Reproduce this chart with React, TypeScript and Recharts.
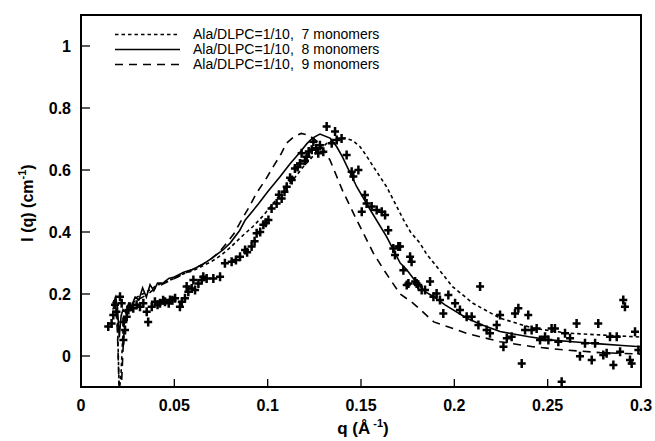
import React from 'react';
import { ComposedChart, Line, Scatter, XAxis, YAxis, ReferenceArea, Legend, Label } from 'recharts';

// ---- data ----
const xTicks = [0, 0.05, 0.1, 0.15, 0.2, 0.25, 0.3];
const xTickLabels = ['0', '0.05', '0.1', '0.15', '0.2', '0.25', '0.3'];
const yTicks = [0, 0.2, 0.4, 0.6, 0.8, 1];
const yTickLabels = ['0', '0.2', '0.4', '0.6', '0.8', '1'];

const seriesNames = [
  'Ala/DLPC=1/10,  7 monomers',
  'Ala/DLPC=1/10,  8 monomers',
  'Ala/DLPC=1/10,  9 monomers',
];

const q7 = [0.017, 0.0185, 0.0195, 0.0205, 0.0215, 0.0225, 0.024, 0.026, 0.028, 0.03, 0.033, 0.036, 0.04, 0.045, 0.05, 0.055, 0.06, 0.065, 0.07, 0.075, 0.08, 0.086, 0.092, 0.098, 0.103, 0.108, 0.1136, 0.119, 0.124, 0.1316, 0.137, 0.1414, 0.1455, 0.1495, 0.153, 0.1566, 0.1637, 0.1685, 0.1727, 0.1765, 0.1816, 0.185, 0.189, 0.199, 0.21, 0.2245, 0.242, 0.26, 0.278, 0.3];
const i7 = [0.17, 0.19, 0.12, -0.12, -0.05, 0.08, 0.13, 0.16, 0.17, 0.19, 0.2, 0.21, 0.225, 0.24, 0.25, 0.265, 0.275, 0.29, 0.305, 0.325, 0.35, 0.385, 0.417, 0.455, 0.493, 0.53, 0.568, 0.61, 0.643, 0.686, 0.7, 0.703, 0.695, 0.675, 0.645, 0.611, 0.546, 0.49, 0.44, 0.4, 0.364, 0.33, 0.3, 0.224, 0.17, 0.122, 0.09, 0.074, 0.068, 0.061];

const q8 = [0.017, 0.0185, 0.0195, 0.0205, 0.0215, 0.0225, 0.024, 0.0255, 0.027, 0.029, 0.031, 0.033, 0.035, 0.037, 0.039, 0.041, 0.044, 0.047, 0.05, 0.055, 0.06, 0.065, 0.07, 0.076, 0.08, 0.085, 0.088, 0.095, 0.1, 0.1066, 0.112, 0.117, 0.121, 0.124, 0.128, 0.1334, 0.137, 0.14, 0.1477, 0.155, 0.1637, 0.171, 0.1743, 0.18, 0.185, 0.189, 0.195, 0.2067, 0.215, 0.2245, 0.24, 0.251, 0.265, 0.278, 0.29, 0.3];
const i8 = [0.16, 0.19, 0.16, 0.06, 0.13, 0.15, 0.14, 0.17, 0.16, 0.19, 0.18, 0.22, 0.19, 0.23, 0.21, 0.235, 0.235, 0.25, 0.255, 0.27, 0.28, 0.295, 0.315, 0.342, 0.365, 0.405, 0.439, 0.49, 0.53, 0.578, 0.62, 0.655, 0.685, 0.703, 0.716, 0.703, 0.675, 0.643, 0.546, 0.471, 0.385, 0.3, 0.28, 0.235, 0.205, 0.191, 0.165, 0.122, 0.1, 0.079, 0.062, 0.052, 0.045, 0.039, 0.034, 0.03];

const q9 = [0.017, 0.0185, 0.0195, 0.0205, 0.0215, 0.0225, 0.0235, 0.025, 0.027, 0.03, 0.033, 0.036, 0.04, 0.045, 0.05, 0.055, 0.06, 0.065, 0.07, 0.074, 0.078, 0.082, 0.085, 0.09, 0.094, 0.099, 0.103, 0.107, 0.11, 0.114, 0.118, 0.122, 0.126, 0.13, 0.1334, 0.14, 0.1477, 0.1566, 0.162, 0.167, 0.171, 0.178, 0.189, 0.2067, 0.2245, 0.242, 0.26, 0.278, 0.3];
const i9 = [0.15, 0.17, 0.08, -0.12, -0.12, 0.02, 0.12, 0.14, 0.16, 0.18, 0.19, 0.2, 0.22, 0.235, 0.25, 0.265, 0.28, 0.295, 0.315, 0.335, 0.364, 0.395, 0.428, 0.48, 0.525, 0.57, 0.611, 0.65, 0.686, 0.707, 0.718, 0.712, 0.695, 0.665, 0.632, 0.535, 0.439, 0.332, 0.28, 0.235, 0.2, 0.17, 0.11, 0.073, 0.046, 0.03, 0.019, 0.011, 0.006];

const qObs = [0.0146, 0.0164, 0.0173, 0.019, 0.0182, 0.0209, 0.0218, 0.0227, 0.0236, 0.0227, 0.0245, 0.0254, 0.0263, 0.028, 0.0298, 0.0316, 0.0334, 0.0352, 0.036, 0.0379, 0.0396, 0.041, 0.0423, 0.044, 0.045, 0.047, 0.0477, 0.049, 0.0504, 0.053, 0.054, 0.0557, 0.0575, 0.0593, 0.0611, 0.0629, 0.0647, 0.0673,
  0.0566, 0.0602, 0.0655, 0.0709, 0.0745, 0.0771, 0.0807, 0.083, 0.0852, 0.0879, 0.089, 0.0914, 0.093, 0.0941, 0.096, 0.0977, 0.099, 0.1004, 0.1021, 0.1048, 0.106, 0.1075, 0.109, 0.1102, 0.112, 0.1129, 0.1146, 0.116, 0.1173, 0.1182, 0.12, 0.1209, 0.122, 0.1236, 0.1245, 0.126, 0.1271, 0.128, 0.1298, 0.1316, 0.1343, 0.1361, 0.137, 0.1396, 0.1423, 0.145, 0.1459, 0.1486, 0.1521, 0.153, 0.1504, 0.1557, 0.1584, 0.1611, 0.1629, 0.1646, 0.1673, 0.17, 0.1682, 0.1763, 0.1727, 0.1754, 0.1798, 0.1825, 0.187,
  0.1709, 0.1771, 0.1745, 0.179, 0.1807, 0.1843, 0.1888, 0.1905, 0.1923, 0.1941, 0.1968, 0.2004, 0.203, 0.2066, 0.2093, 0.2138, 0.2129, 0.2173, 0.2191, 0.2227, 0.2245, 0.2263, 0.2281, 0.2307, 0.2325, 0.2343, 0.2361, 0.2379, 0.2396, 0.2414, 0.2441, 0.2459, 0.2486, 0.2504, 0.2521, 0.2539, 0.2557, 0.2575, 0.2593, 0.262, 0.2655, 0.2673, 0.27, 0.2736, 0.2754, 0.2771, 0.2798, 0.2816, 0.2834, 0.2852, 0.287, 0.2888, 0.2905, 0.2914, 0.2941, 0.295, 0.2968, 0.2986];
const iObs = [0.095, 0.105, 0.132, 0.143, 0.165, 0.191, 0.17, 0.11, 0.084, 0.052, 0.127, 0.148, 0.159, 0.154, 0.165, 0.159, 0.17, 0.143, 0.11, 0.159, 0.175, 0.165, 0.17, 0.18, 0.175, 0.17, 0.181, 0.18, 0.186, 0.159, 0.175, 0.186, 0.207, 0.218, 0.213, 0.234, 0.245, 0.25,
  0.224, 0.245, 0.256, 0.25, 0.256, 0.299, 0.304, 0.31, 0.32, 0.342, 0.335, 0.353, 0.37, 0.396, 0.4, 0.423, 0.43, 0.439, 0.476, 0.492, 0.52, 0.508, 0.53, 0.546, 0.575, 0.568, 0.605, 0.61, 0.621, 0.654, 0.63, 0.643, 0.66, 0.665, 0.691, 0.67, 0.654, 0.68, 0.659, 0.74, 0.686, 0.724, 0.697, 0.702, 0.648, 0.594, 0.579, 0.6, 0.519, 0.492, 0.465, 0.482, 0.471, 0.465, 0.455, 0.406, 0.347, 0.353, 0.326, 0.32, 0.277, 0.234, 0.234, 0.213, 0.24,
  0.353, 0.304, 0.229, 0.24, 0.229, 0.213, 0.191, 0.202, 0.181, 0.137, 0.197, 0.17, 0.148, 0.127, 0.127, 0.224, 0.1, 0.084, 0.073, 0.1, 0.132, 0.03, 0.057, 0.062, 0.137, 0.154, -0.024, 0.084, 0.132, 0.084, 0.089, 0.052, 0.062, 0.052, 0.089, 0.089, 0.046, -0.083, 0.073, 0.057, 0.105, -0.001, 0.041, -0.013, 0.041, 0.105, 0.003, 0.009, 0.062, -0.029, 0.062, 0.014, 0.181, 0.159, -0.013, -0.024, 0.078, 0.019];

const toRows = (qs: number[], is: number[]) => qs.map((q, k) => ({ q, I: is[k] }));
const data7 = toRows(q7, i7);
const data8 = toRows(q8, i8);
const data9 = toRows(q9, i9);
const dataObs = toRows(qObs, iObs);

const FONT = '"Liberation Sans", Arial, Helvetica, sans-serif';
const dashes = ['3.5 3', undefined, '8 6'];

const PLOT_LEFT = 81;
const PLOT_BOTTOM = 387;

const YTick = (props: any) => {
  const { y, payload } = props;
  const idx = yTicks.indexOf(payload.value);
  return (
    <g>
      <line x1={PLOT_LEFT} x2={PLOT_LEFT + 9} y1={y} y2={y} stroke="#000" strokeWidth={1.3} />
      <text x={PLOT_LEFT - 10} y={y} dy={5.8} textAnchor="end" fontSize={16} fontWeight="bold" fill="#000" fontFamily={FONT}>
        {idx >= 0 ? yTickLabels[idx] : payload.value}
      </text>
    </g>
  );
};

const XTick = (props: any) => {
  const { x, payload } = props;
  const idx = xTicks.findIndex((t) => Math.abs(t - payload.value) < 1e-9);
  return (
    <g>
      <line x1={x} x2={x} y1={PLOT_BOTTOM} y2={PLOT_BOTTOM - 8} stroke="#000" strokeWidth={1.3} />
      <text x={x} y={PLOT_BOTTOM + 24} textAnchor="middle" fontSize={16} fontWeight="bold" fill="#000" fontFamily={FONT}>
        {idx >= 0 ? xTickLabels[idx] : payload.value}
      </text>
    </g>
  );
};

const PlusShape = (props: any) => {
  const { cx, cy } = props;
  if (cx == null || cy == null) return null;
  return (
    <path d={`M${cx - 4},${cy}H${cx + 4}M${cx},${cy - 4.5}V${cy + 4.5}`} stroke="#000" strokeWidth={2.5} fill="none" />
  );
};

const LegendContent = () => (
  <div style={{ fontFamily: FONT, fontSize: 14, color: '#000' }}>
    {seriesNames.map((name, k) => (
      <div key={name} style={{ display: 'flex', alignItems: 'center', height: 15, whiteSpace: 'pre' }}>
        <svg width={65} height={15} style={{ display: 'block' }}>
          <line x1={0} x2={65} y1={7.5} y2={7.5} stroke="#000" strokeWidth={1.5} strokeDasharray={dashes[k]} />
        </svg>
        <span style={{ marginLeft: 13, lineHeight: '15px' }}>{name}</span>
      </div>
    ))}
  </div>
);

const YLabel = () => (
  <text transform="rotate(-90, 33, 203)" x={33} y={203} textAnchor="middle" fontSize={16} fontWeight="bold" fill="#000" fontFamily={FONT}>
    I (q) (cm
    <tspan dy={-7} fontSize={11}>-1</tspan>
    <tspan dy={7}>)</tspan>
  </text>
);

const XLabel = () => (
  <text x={363} y={434} textAnchor="middle" fontSize={17} fontWeight="bold" fill="#000" fontFamily={FONT}>
    q (Å
    <tspan dy={-7} fontSize={11}> -1</tspan>
    <tspan dy={7}>)</tspan>
  </text>
);

export default function App() {
  return (
    <div style={{ position: 'absolute', left: 0, top: 0, background: '#fff' }}>
      <ComposedChart width={655} height={441} margin={{ top: 15, right: 14, bottom: 4, left: 1 }} style={{ fontFamily: FONT }}>
        <XAxis
          dataKey="q"
          type="number"
          domain={[0, 0.3]}
          ticks={xTicks}
          allowDataOverflow
          height={50}
          axisLine={false}
          tickLine={false}
          tick={<XTick />}
          interval={0}
        >
          <Label content={<XLabel />} />
        </XAxis>
        <YAxis
          dataKey="I"
          type="number"
          domain={[-0.1, 1.1]}
          ticks={yTicks}
          allowDataOverflow
          width={80}
          axisLine={false}
          tickLine={false}
          tick={<YTick />}
          interval={0}
        >
          <Label content={<YLabel />} />
        </YAxis>
        <Scatter data={dataObs} dataKey="I" shape={<PlusShape />} isAnimationActive={false} legendType="none" />
        <Line data={data7} dataKey="I" type="linear" stroke="#000" strokeWidth={1.6} strokeDasharray="3.5 3" dot={false} activeDot={false} isAnimationActive={false} name={seriesNames[0]} />
        <Line data={data8} dataKey="I" type="linear" stroke="#000" strokeWidth={1.6} dot={false} activeDot={false} isAnimationActive={false} name={seriesNames[1]} />
        <Line data={data9} dataKey="I" type="linear" stroke="#000" strokeWidth={1.6} strokeDasharray="8 6" dot={false} activeDot={false} isAnimationActive={false} name={seriesNames[2]} />
        <ReferenceArea x1={0} x2={0.3} y1={-0.1} y2={1.1} fill="none" stroke="#000" strokeWidth={2} ifOverflow="visible" />
        <Legend
          layout="vertical"
          align="center"
          verticalAlign="middle"
          content={<LegendContent />}
          wrapperStyle={{ left: 115, top: 27, width: 320, height: 45 }}
        />
      </ComposedChart>
    </div>
  );
}
